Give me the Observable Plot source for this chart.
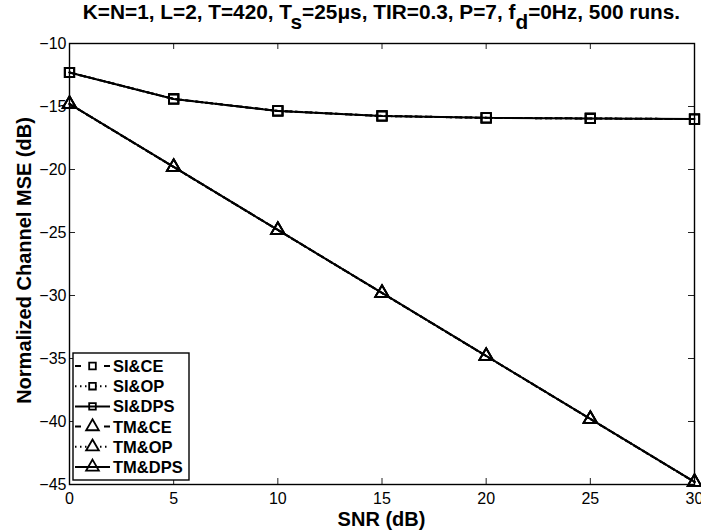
<!DOCTYPE html>
<html>
<head>
<meta charset="utf-8">
<script src="https://cdn.jsdelivr.net/npm/d3@7"></script>
<script src="https://cdn.jsdelivr.net/npm/@observablehq/plot@0.6"></script>
<style>
  body { margin: 0; background: #fff; }
  #chart svg { display: block; font-family: "Liberation Sans", Arial, sans-serif; }
</style>
</head>
<body>
<div id="chart"></div>
<script>
// SNR grid (dB)
const snr = [0, 5, 10, 15, 20, 25, 30];

// Normalized channel MSE (dB), superimposed training (SI)
const siCE  = [-12.3, -14.4, -15.35, -15.75, -15.9, -15.95, -16.0];
const siOP  = [-12.3, -14.4, -15.35, -15.75, -15.9, -15.95, -16.0];
const siDPS = [-12.3, -14.4, -15.35, -15.75, -15.9, -15.95, -16.0];

// Normalized channel MSE (dB), time-multiplexed training (TM)
const tmCE  = [-14.8, -19.8, -24.8, -29.8, -34.8, -39.8, -44.8];
const tmOP  = [-14.8, -19.8, -24.8, -29.8, -34.8, -39.8, -44.8];
const tmDPS = [-14.8, -19.8, -24.8, -29.8, -34.8, -39.8, -44.8];

const seriesNames = ["SI&CE", "SI&OP", "SI&DPS", "TM&CE", "TM&OP", "TM&DPS"];
const xTicks = [0, 5, 10, 15, 20, 25, 30];
const yTicks = [-45, -40, -35, -30, -25, -20, -15, -10];

const W = 701, H = 531;
const mL = 69, mR = 7, mT = 43, mB = 47;
const innerW = W - mL - mR, innerH = H - mT - mB;

// line style and marker for each series
const styles = {
  "SI&CE":  {dash: "6,4", symbol: "square"},
  "SI&OP":  {dash: "1.5,3.5", symbol: "square"},
  "SI&DPS": {dash: null, symbol: "square"},
  "TM&CE":  {dash: "6,4", symbol: "triangle"},
  "TM&OP":  {dash: "1.5,3.5", symbol: "triangle"},
  "TM&DPS": {dash: null, symbol: "triangle"}
};
const seriesValues = [siCE, siOP, siDPS, tmCE, tmOP, tmDPS];
const rows = seriesNames.flatMap((name, i) =>
  snr.map((x, j) => ({series: name, snr: x, mse: seriesValues[i][j]})));

const fmt = d => d < 0 ? "\u2212" + (-d) : String(d);

const marks = [];
seriesNames.forEach(name => {
  const data = rows.filter(r => r.series === name);
  const st = styles[name];
  marks.push(Plot.line(data, {
    x: "snr", y: "mse", stroke: "#000", strokeWidth: 2,
    strokeDasharray: st.dash, strokeLinejoin: "miter"
  }));
  marks.push(Plot.dot(data, {
    x: "snr", y: "mse", symbol: () => st.symbol,
    r: st.symbol === "square" ? 5.3 : 5,
    stroke: "#000", strokeWidth: 1.8, fill: "none"
  }));
});

const chart = Plot.plot({
  width: W, height: H,
  marginLeft: mL, marginRight: mR, marginTop: mT, marginBottom: mB,
  style: {fontFamily: "Liberation Sans, Arial, sans-serif", background: "#fff"},
  x: {domain: [0, 30]},
  y: {domain: [-45, -10]},
  symbol: {type: "identity"},
  marks: [
    // inward ticks on all four sides
    Plot.tickX(xTicks, {x: d => d, stroke: "#222", strokeWidth: 1, insetTop: innerH - 6}),
    Plot.tickX(xTicks, {x: d => d, stroke: "#222", strokeWidth: 1, insetBottom: innerH - 6}),
    Plot.tickY(yTicks, {y: d => d, stroke: "#222", strokeWidth: 1, insetRight: innerW - 6}),
    Plot.tickY(yTicks, {y: d => d, stroke: "#222", strokeWidth: 1, insetLeft: innerW - 6}),
    Plot.axisX(xTicks, {anchor: "bottom", tickSize: 0, tickPadding: 8, fontSize: 16,
      tickFormat: fmt, label: null, fill: "#000"}),
    Plot.axisY(yTicks, {anchor: "left", tickSize: 0, tickPadding: 3, fontSize: 16,
      tickFormat: fmt, label: null, fill: "#000"}),
    ...marks,
    Plot.frame({stroke: "#000", strokeWidth: 1.4})
  ]
});

document.getElementById("chart").appendChild(chart);

const svg = d3.select(chart);

// axis titles
svg.append("text")
  .attr("x", (mL + W - mR) / 2).attr("y", 526)
  .attr("text-anchor", "middle").attr("font-size", 20).attr("font-weight", "bold")
  .attr("fill", "#000").text("SNR (dB)");
svg.append("text")
  .attr("transform", `translate(31,${mT + innerH / 2 - 3}) rotate(-90)`)
  .attr("text-anchor", "middle").attr("font-size", 20).attr("font-weight", "bold")
  .attr("fill", "#000").text("Normalized Channel MSE (dB)");

// title with subscripts
const title = svg.append("text")
  .attr("x", (mL + W - mR) / 2).attr("y", 19)
  .attr("text-anchor", "middle")
  .attr("font-size", 20.8).attr("font-weight", "bold").attr("fill", "#000");
const parts = [
  ["K=N=1, L=2, T=420, T", 0], ["s", 1], ["=25\u03bcs, TIR=0.3, P=7, f", 0],
  ["d", 1], ["=0Hz, 500 runs.", 0]
];
let shifted = false;
parts.forEach(([t, sub]) => {
  const ts = title.append("tspan").text(t);
  if (sub && !shifted) { ts.attr("dy", 10); shifted = true; }
  else if (!sub && shifted) { ts.attr("dy", -10); shifted = false; }
});

// legend box
const lg = svg.append("g").attr("text-anchor", "start");
const lx = 73, ly = 353, lw = 116, lh = 127;
lg.append("rect").attr("x", lx).attr("y", ly).attr("width", lw).attr("height", lh)
  .attr("fill", "#fff").attr("stroke", "#000").attr("stroke-width", 1.4);
seriesNames.forEach((name, i) => {
  const st = styles[name];
  const cy = 366 + i * 20.2;
  lg.append("line").attr("x1", 75).attr("x2", 110).attr("y1", cy).attr("y2", cy)
    .attr("stroke", "#000").attr("stroke-width", 2)
    .attr("stroke-dasharray", st.dash ? (st.dash === "6,4" ? "6,23" : st.dash) : null);
  const size = st.symbol === "square" ? 44 : 70;
  lg.append("path")
    .attr("d", d3.symbol(st.symbol === "square" ? d3.symbolSquare : d3.symbolTriangle, size)())
    .attr("transform", `translate(92.5,${cy})`)
    .attr("fill", st.dash === null ? "none" : "#fff").attr("stroke", "#000").attr("stroke-width", 1.8);
  lg.append("text").attr("x", 113).attr("y", cy).attr("dy", "0.36em")
    .attr("text-anchor", "start")
    .attr("font-size", 16.5).attr("font-weight", "bold").attr("fill", "#000").text(name);
});
</script>
</body>
</html>
